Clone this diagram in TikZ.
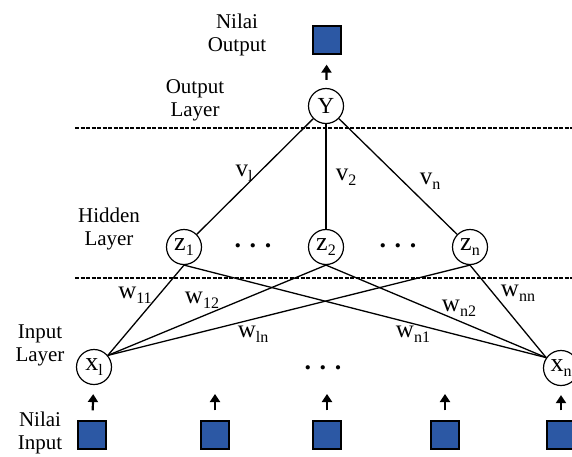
\documentclass[tikz,border=0pt]{standalone}
\usepackage{fontspec}
\setmainfont{Liberation Serif}
\usetikzlibrary{arrows.meta}
\definecolor{boxblue}{RGB}{44,88,164}
\newcommand{\sub}[1]{\raisebox{-0.2em}{\fontsize{16}{16}\selectfont #1}}
\begin{document}
\begin{tikzpicture}[x=1pt,y=-1pt,
    neuron/.style={circle,draw,line width=1.2pt,minimum size=35pt,inner sep=0pt,font=\fontsize{26}{26}\selectfont},
    valbox/.style={draw,line width=1.3pt,fill=boxblue,minimum size=28pt,inner sep=0pt},
    lbl/.style={align=center,font=\fontsize{21}{23}\selectfont},
    wgt/.style={inner sep=0pt,font=\fontsize{25}{25}\selectfont},
    dotrow/.style={font=\fontsize{26}{26}\selectfont\bfseries},
    sep/.style={line width=1.3pt,dash pattern=on 4pt off 1.5pt},
    feed/.style={-{Triangle[length=8pt,width=10pt]},line width=2.2pt,shorten <=10pt,shorten >=9pt}]
  \useasboundingbox (0,0) rectangle (572,456);
  \fill[white] (0,0) rectangle (572,456);
  % labels of the layers
  \draw
    (237,35) node[lbl] (nout){Nilai\\Output}
    (195,100) node[lbl] (lout){Output\\Layer}
    (109,229) node[lbl] (lhid){Hidden\\Layer}
    (40,345) node[lbl] (linp){Input\\Layer}
    (40,433) node[lbl] (ninp){Nilai\\Input};
  % neurons
  \draw
    (327,40) node[valbox] (yval){}
    (326,106) node[neuron,font=\fontsize{23}{23}\selectfont] (y){Y}
    (184,247) node[neuron] (z1){z\sub{1}}
    (326,247) node[neuron] (z2){z\sub{2}}
    (470,247) node[neuron] (zn){z\sub{n}}
    (94,367) node[neuron] (x1){x\sub{l}}
    (561,368) node[neuron] (xn){x\sub{n}};
  \draw
    (253,246) node[dotrow] (d1){. . .}
    (398,246) node[dotrow] (d2){. . .}
    (323,368) node[dotrow] (d3){. . .};
  % input values
  \draw
    (92,435) node[valbox] (i1){}
    (215,435) node[valbox] (i2){}
    (327,435) node[valbox] (i3){}
    (445,435) node[valbox] (i4){}
    (561,435) node[valbox] (i5){};
  \coordinate (c2) at (215,385);
  \coordinate (c3) at (327,385);
  \coordinate (c4) at (445,385);
  % layer borders
  \draw[sep] (75,128) -- (572,128);
  \draw[sep] (75,278) -- (572,278);
  \begin{scope}[line width=1.3pt]
    \draw (y) to (z1);
    \draw (y) to (z2);
    \draw (y) to (zn);
    \draw (z1.south) to (x1.40);
    \draw (z2.south) to (x1.40);
    \draw (zn.south) to (x1.40);
    \draw (z1.south) to (xn.145);
    \draw (z2.south) to (xn.145);
    \draw (zn.south) to (xn.145);
  \end{scope}
  \begin{scope}[feed]
    \draw (i1) to (x1);
    \draw (i2) to (c2);
    \draw (i3) to (c3);
    \draw (i4) to (c4);
    \draw (i5) to (xn);
    \draw[shorten <=8pt,shorten >=10pt] (y) to (yval);
  \end{scope}
  % weights
  \draw
    (244,173) node[wgt] (v1){v\sub{l}}
    (346,177) node[wgt] (v2){v\sub{2}}
    (430,181) node[wgt] (vn){v\sub{n}}
    (135,295) node[wgt] (w11){w\sub{11}}
    (202,300) node[wgt] (w12){w\sub{12}}
    (253,334) node[wgt] (w1n){w\sub{ln}}
    (413,334) node[wgt] (wn1){w\sub{n1}}
    (459,308) node[wgt] (wn2){w\sub{n2}}
    (518,293) node[wgt] (wnn){w\sub{nn}};
\end{tikzpicture}
\end{document}
